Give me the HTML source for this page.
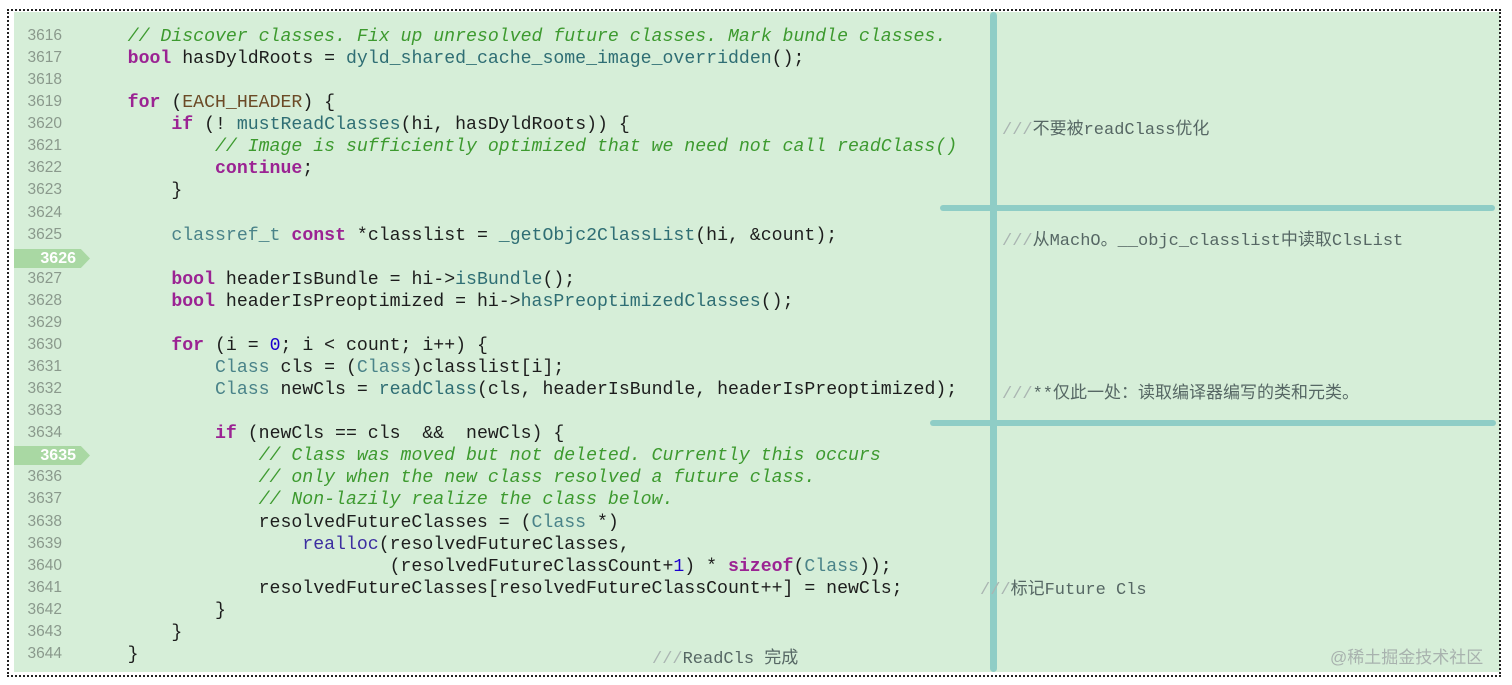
<!DOCTYPE html>
<html><head><meta charset="utf-8"><style>
body{margin:0;width:1512px;height:685px;background:#fff;position:relative;overflow:hidden;font-family:"Liberation Mono","Noto Sans CJK SC",monospace;}
#bg{position:absolute;left:14px;top:12px;width:1486px;height:660px;background:#d6eed8;}
#border{position:absolute;left:7px;top:9px;width:1494px;height:668px;border:2px dotted #222;box-sizing:border-box;}
.ln{position:absolute;left:0;width:62px;text-align:right;font-family:"Liberation Sans",sans-serif;font-size:15.5px;color:#8a998c;}
.code{position:absolute;left:84px;white-space:pre;font-size:18.2px;color:#1d1d1d;}
.c{color:#3d9a2f;font-style:italic}.k{color:#9b2393;font-weight:bold}.t{color:#4a8389}.f{color:#2f6e74}.n{color:#1c00cf}.m{color:#6b4a26}
.ann{position:absolute;white-space:pre;font-size:17px;color:#566764;font-family:"Liberation Mono","Noto Sans CJK SC",monospace;}
.ann i{font-style:normal;color:#aab5b2}
.bar{position:absolute;background:#8fcdc6;border-radius:4px;}
.badge{position:absolute;left:14px;width:76px;height:19px;background:#a9d8a3;color:#fff;font-family:"Liberation Sans",sans-serif;font-size:16px;font-weight:bold;text-align:right;padding-right:14px;box-sizing:border-box;line-height:19px;clip-path:polygon(0 0,88% 0,100% 50%,88% 100%,0 100%);}
</style></head><body>
<div id="bg"></div>
<div id="border"></div>
<div class="badge" style="top:249px">3626</div>
<div class="badge" style="top:446px">3635</div>
<div id="lines"></div>
<div class="bar" style="left:990px;top:12px;width:7px;height:660px;"></div>
<div class="bar" style="left:940px;top:205px;width:555px;height:6px;"></div>
<div class="bar" style="left:930px;top:420px;width:566px;height:6px;"></div>
<div class="ann" style="left:1002px;top:114px"><i>///</i>不要被readClass优化</div>
<div class="ann" style="left:1002px;top:225px"><i>///</i>从MachO。__objc_classlist中读取ClsList</div>
<div class="ann" style="left:1002px;top:378px"><i>///</i>**仅此一处：读取编译器编写的类和元类。</div>
<div class="ann" style="left:980px;top:574px"><i>///</i>标记Future Cls</div>
<div class="ann" style="left:652px;top:643px"><i>///</i>ReadCls 完成</div>
<div class="ann" style="left:1330px;top:643px;color:#a8b2ae;font-family:'Liberation Sans','Noto Sans CJK SC',sans-serif">@稀土掘金技术社区</div>
<script>
var L=[
[3616,'    <span class="c">// Discover classes. Fix up unresolved future classes. Mark bundle classes.</span>'],
[3617,'    <span class="k">bool</span> hasDyldRoots = <span class="f">dyld_shared_cache_some_image_overridden</span>();'],
[3618,''],
[3619,'    <span class="k">for</span> (<span class="m">EACH_HEADER</span>) {'],
[3620,'        <span class="k">if</span> (! <span class="f">mustReadClasses</span>(hi, hasDyldRoots)) {'],
[3621,'            <span class="c">// Image is sufficiently optimized that we need not call readClass()</span>'],
[3622,'            <span class="k">continue</span>;'],
[3623,'        }'],
[3624,''],
[3625,'        <span class="t">classref_t</span> <span class="k">const</span> *classlist = <span class="f">_getObjc2ClassList</span>(hi, &amp;count);'],
[3626,''],
[3627,'        <span class="k">bool</span> headerIsBundle = hi-&gt;<span class="f">isBundle</span>();'],
[3628,'        <span class="k">bool</span> headerIsPreoptimized = hi-&gt;<span class="f">hasPreoptimizedClasses</span>();'],
[3629,''],
[3630,'        <span class="k">for</span> (i = <span class="n">0</span>; i &lt; count; i++) {'],
[3631,'            <span class="t">Class</span> cls = (<span class="t">Class</span>)classlist[i];'],
[3632,'            <span class="t">Class</span> newCls = <span class="f">readClass</span>(cls, headerIsBundle, headerIsPreoptimized);'],
[3633,''],
[3634,'            <span class="k">if</span> (newCls == cls  &amp;&amp;  newCls) {'],
[3635,'                <span class="c">// Class was moved but not deleted. Currently this occurs</span>'],
[3636,'                <span class="c">// only when the new class resolved a future class.</span>'],
[3637,'                <span class="c">// Non-lazily realize the class below.</span>'],
[3638,'                resolvedFutureClasses = (<span class="t">Class</span> *)'],
[3639,'                    <span class="f" style="color:#3c2ea0">realloc</span>(resolvedFutureClasses,'],
[3640,'                            (resolvedFutureClassCount+<span class="n">1</span>) * <span class="k">sizeof</span>(<span class="t">Class</span>));'],
[3641,'                resolvedFutureClasses[resolvedFutureClassCount++] = newCls;'],
[3642,'            }'],
[3643,'        }'],
[3644,'    }']];
var h='';
L.forEach(function(r,i){
 var y=36+(r[0]-3616)*22.07-10;
 if(r[0]!=3626&&r[0]!=3635) h+='<div class="ln" style="top:'+(y+1)+'px">'+r[0]+'</div>';
 h+='<div class="code" style="top:'+(y)+'px;line-height:22px">'+r[1]+'</div>';
});
document.getElementById('lines').innerHTML=h;
</script>
</body></html>
